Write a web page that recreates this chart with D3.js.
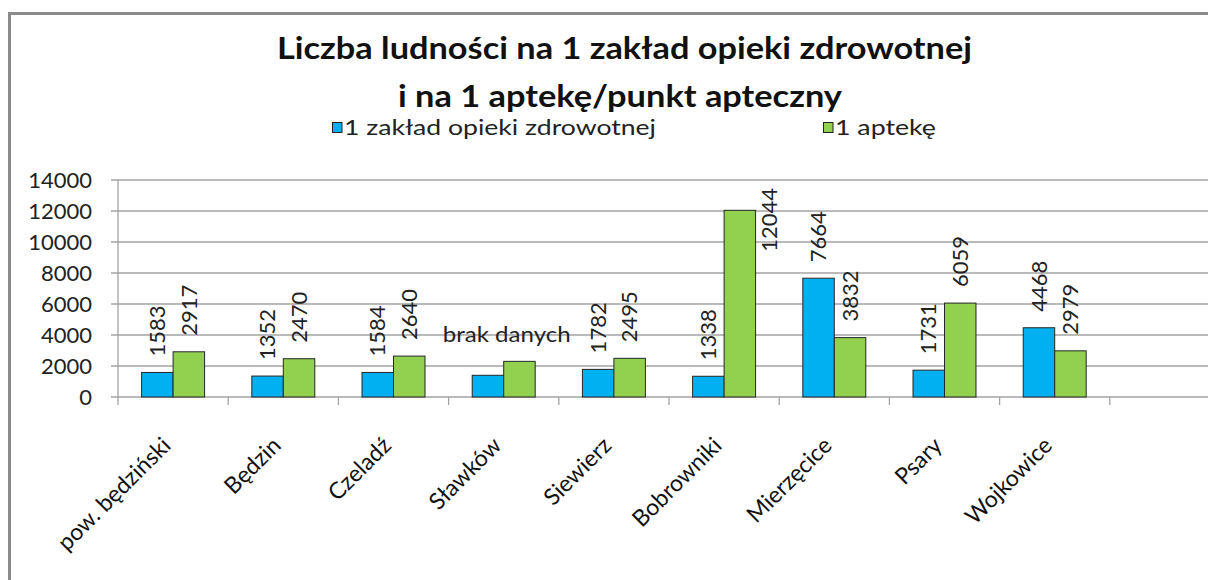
<!DOCTYPE html>
<html>
<head>
<meta charset="utf-8">
<script src="https://cdn.jsdelivr.net/npm/d3@7"></script>
<style>
  body { margin: 0; background: #fff; }
  svg { display: block; font-family: Lato, "Open Sans", sans-serif; }
  .grid line { stroke: #a3a3a3; stroke-width: 1.3; }
  .tick-label { font-size: 22px; fill: #222; }
  .val { font-size: 22px; fill: #222; }
  .cat { font-size: 23px; fill: #111; }
</style>
</head>
<body>
<svg id="chart" width="1208" height="580"></svg>
<script>
// dane z wykresu
categories = ["pow. będziński", "Będzin", "Czeladź", "Sławków", "Siewierz", "Bobrowniki", "Mierzęcice", "Psary", "Wojkowice"]
perZaklad = [1583, 1352, 1584, 1400, 1782, 1338, 7664, 1731, 4468]
perApteka = [2917, 2470, 2640, 2300, 2495, 12044, 3832, 6059, 2979]
seriesNames = ["1 zakład opieki zdrowotnej", "1 aptekę"]
seriesColors = ["#00b0f0", "#92d050"]
noDataCategory = "Sławków"
yTicks = [0, 2000, 4000, 6000, 8000, 10000, 12000, 14000]

var svg = d3.select("#chart")

// ramka wykresu (ucięta z prawej i z dołu)
svg.append("rect")
  .attr("x", 9.5).attr("y", 13.5)
  .attr("width", 1400).attr("height", 800)
  .attr("fill", "none")
  .attr("stroke", "#8a8a8a")
  .attr("stroke-width", 3)

var plotLeft = 118, plotTop = 180, plotBottom = 397
var slotWidth = 110.2
// dziesiąty, pusty slot kategorii wychodzi poza obrazek
var slots = categories.concat([""])

var x = d3.scaleBand()
  .domain(d3.range(slots.length))
  .range([plotLeft, plotLeft + slotWidth * slots.length])

var barW = x.bandwidth() / 3.5

var y = d3.scaleLinear()
  .domain([0, 14000])
  .range([plotBottom, plotTop])

// tytuł
svg.append("text")
  .attr("x", 277).attr("y", 59)
  .attr("textLength", 695)
  .attr("lengthAdjust", "spacingAndGlyphs")
  .style("font-size", "30px").style("font-weight", "bold").style("fill", "#111")
  .text("Liczba ludności na 1 zakład opieki zdrowotnej")

svg.append("text")
  .attr("x", 398).attr("y", 107)
  .attr("textLength", 444)
  .attr("lengthAdjust", "spacingAndGlyphs")
  .style("font-size", "30px").style("font-weight", "bold").style("fill", "#111")
  .text("i na 1 aptekę/punkt apteczny")

// legenda
var legendX = [332, 823]
var legendLen = [312, 101]
seriesNames.forEach(function(name, i) {
  svg.append("rect")
    .attr("x", legendX[i] + 0.5).attr("y", 122.5)
    .attr("width", 9.5).attr("height", 10)
    .attr("fill", seriesColors[i])
    .attr("stroke", "#222").attr("stroke-width", 1)
  svg.append("text")
    .attr("x", legendX[i] + 12).attr("y", 135)
    .attr("textLength", legendLen[i])
    .attr("lengthAdjust", "spacingAndGlyphs")
    .style("font-size", "21px").style("fill", "#222")
    .text(name)
})

// siatka
svg.append("g").attr("class", "grid")
  .selectAll("line")
  .data(yTicks)
  .join("line")
  .attr("x1", plotLeft - 7)
  .attr("x2", 1208)
  .attr("y1", function(d) { return y(d) })
  .attr("y2", function(d) { return y(d) })

svg.append("g")
  .selectAll("text")
  .data(yTicks)
  .join("text")
  .attr("class", "tick-label")
  .attr("x", 92)
  .attr("y", function(d) { return y(d) })
  .attr("dy", "0.36em")
  .attr("text-anchor", "end")
  .text(function(d) { return d })

// oś y i oś x
svg.append("line")
  .attr("x1", plotLeft).attr("x2", plotLeft)
  .attr("y1", plotTop).attr("y2", plotBottom)
  .attr("stroke", "#a3a3a3").attr("stroke-width", 1.3)

svg.append("g").attr("class", "grid")
  .selectAll("line")
  .data(d3.range(slots.length + 1))
  .join("line")
  .attr("x1", function(d) { return plotLeft + d * x.step() })
  .attr("x2", function(d) { return plotLeft + d * x.step() })
  .attr("y1", plotBottom)
  .attr("y2", plotBottom + 8)

// słupki
var rows = categories.map(function(c, i) {
  return {cat: c, i: i, vals: [perZaklad[i], perApteka[i]]}
})

var bars = []
rows.forEach(function(r) {
  r.vals.forEach(function(v, s) {
    bars.push({cat: r.cat, i: r.i, s: s, v: v})
  })
})

function barX(d) {
  return x(d.i) + x.bandwidth() / 2 - barW + d.s * barW
}

svg.append("g")
  .selectAll("rect")
  .data(bars)
  .join("rect")
  .attr("x", barX)
  .attr("y", function(d) { return y(d.v) })
  .attr("width", barW)
  .attr("height", function(d) { return plotBottom - y(d.v) })
  .attr("fill", function(d) { return seriesColors[d.s] })
  .attr("stroke", "#262626")
  .attr("stroke-width", 1)

// etykiety wartości (pionowe)
var labelGap = 16
var valLabels = svg.append("g")
  .selectAll("text")
  .data(bars.filter(function(d) { return d.cat != noDataCategory }))
  .join("text")
  .attr("class", "val")
  .text(function(d) { return d.v })

valLabels.each(function(d) {
  var len = this.getComputedTextLength()
  var cx = barX(d) + barW / 2
  var yb = y(d.v) - labelGap
  var anchor = "start"
  if (yb - len < plotTop) {
    // za wysoko - etykieta obok słupka
    cx = barX(d) + barW + 14
    yb = plotTop + 8
    anchor = "end"
  }
  d3.select(this)
    .attr("text-anchor", anchor)
    .attr("dy", "0.35em")
    .attr("transform", "translate(" + cx + "," + yb + ") rotate(-90)")
})

// brak danych
var nd = categories.indexOf(noDataCategory)
svg.append("text")
  .attr("x", x(nd) + x.bandwidth() / 2 + 3)
  .attr("y", 342)
  .attr("text-anchor", "middle")
  .attr("textLength", 128)
  .attr("lengthAdjust", "spacingAndGlyphs")
  .style("font-size", "21px").style("fill", "#222")
  .text("brak danych")

// etykiety kategorii
svg.append("g")
  .selectAll("text")
  .data(categories)
  .join("text")
  .attr("class", "cat")
  .attr("text-anchor", "end")
  .attr("transform", function(d, i) {
    return "translate(" + (x(i) + x.bandwidth() / 2 - 1) + "," + (plotBottom + 50) + ") rotate(-45)"
  })
  .text(function(d) { return d })
</script>
</body>
</html>
